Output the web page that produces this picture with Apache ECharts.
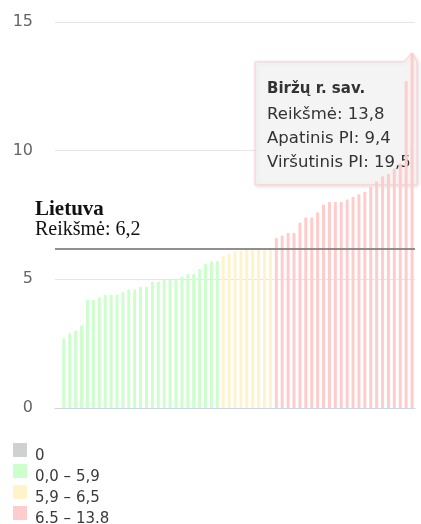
<!DOCTYPE html>
<html>
<head>
<meta charset="utf-8">
<script src="https://cdn.jsdelivr.net/npm/echarts@6/dist/echarts.min.js"></script>
<style>
  html, body { margin: 0; padding: 0; background: #fff; }
  #chart { width: 421px; height: 524px; }
</style>
</head>
<body>
<div id="chart"></div>
<script>
// Savivaldybių rodiklio reikšmės, surikiuotos didėjimo tvarka
const values = [
  2.7, 2.9, 3.0, 3.2, 4.2, 4.2, 4.3, 4.4, 4.4, 4.4,
  4.5, 4.6, 4.6, 4.7, 4.7, 4.9, 4.9, 5.0, 5.0, 5.0,
  5.1, 5.2, 5.2, 5.4, 5.6, 5.7, 5.7, 5.9, 6.0, 6.1,
  6.1, 6.2, 6.2, 6.2, 6.2, 6.2, 6.6, 6.7, 6.8, 6.8,
  7.2, 7.4, 7.4, 7.6, 7.9, 8.0, 8.0, 8.0, 8.1, 8.2,
  8.3, 8.4, 8.6, 8.8, 9.0, 9.1, 9.3, 9.5, 12.7, 13.8
];

// Intervalų ribos ir legendos užrašai
const legendNames = ['0', '0,0 – 5,9', '5,9 – 6,5', '6.5 – 13.8'];
const legendColors = ['#cfd1d1', '#ccffcc', '#fff3c9', '#ffcccc'];
const bounds = [5.9, 6.5];

// Šalies vidurkis
const countryName = 'Lietuva';
const countryValue = 6.2;

// Išskirta savivaldybė
const focusName = 'Biržų r. sav.';
const focusValue = 13.8;
const focusLower = 9.4;
const focusUpper = 19.5;

const yTicks = [0, 5, 10, 15];

const fmt = v => v.toFixed(1).replace('.', ',');

function groupOf(v) {
  if (v < bounds[0]) return 1;
  if (v <= bounds[1]) return 2;
  return 3;
}

const groups = [[], [], [], []];
values.forEach((v, i) => groups[groupOf(v)].push([i, v]));

const font = '"DejaVu Sans", Verdana, sans-serif';
const serif = '"Liberation Serif", "Times New Roman", serif';

const chart = echarts.init(document.getElementById('chart'), null, { renderer: 'canvas' });

const series = legendNames.map((name, k) => ({
  name: name,
  type: 'bar',
  barWidth: 3,
  barGap: '-100%',
  itemStyle: { color: legendColors[k] },
  data: groups[k],
  animation: false
}));

series[0].markLine = {
  silent: true,
  symbol: 'none',
  animation: false,
  label: { show: false },
  lineStyle: { color: 'rgba(125,125,125,0.85)', width: 2, type: 'solid' },
  data: [{ yAxis: countryValue }]
};

// Legendos ženklas: kvadratas viršuje, tekstas nuleistas žemiau jo
const legendIcon = 'path://M0,0H14V14H0Z M0,26L0.01,26';

chart.setOption({
  animation: false,
  grid: { left: 55, right: 6, top: 22, bottom: 116 },
  xAxis: {
    type: 'value',
    min: -1.5,
    max: values.length - 0.5,
    axisLine: { show: true, lineStyle: { color: '#ccd6eb', width: 1 } },
    axisTick: { show: false },
    axisLabel: { show: false },
    splitLine: { show: false }
  },
  yAxis: {
    type: 'value',
    min: yTicks[0],
    max: yTicks[yTicks.length - 1],
    interval: 5,
    axisLine: { show: false },
    axisTick: { show: false },
    axisLabel: { color: '#666', fontFamily: font, fontSize: 16, margin: 22 },
    splitLine: { lineStyle: { color: '#e6e6e6', width: 1 } }
  },
  legend: {
    orient: 'vertical',
    left: 13,
    top: 443,
    height: 200,
    padding: 0,
    icon: legendIcon,
    itemWidth: 14,
    itemHeight: 26,
    itemGap: -5,
    selectedMode: false,
    textStyle: { fontFamily: font, fontSize: 15, color: '#3a3a3a', padding: [0, 0, 0, 3] },
    data: legendNames
  },
  series: series
});

// Šalies vidurkio užrašas ir išskirtos savivaldybės paaiškinimas
const lineY = chart.convertToPixel({ yAxisIndex: 0 }, countryValue);
const anchor = chart.convertToPixel({ xAxisIndex: 0, yAxisIndex: 0 }, [values.length - 1, focusValue]);
const ax = anchor[0], ay = anchor[1];
const L = ax - 157, T = ay + 9, R = ax + 5, B = T + 123;

chart.setOption({
  graphic: [
    {
      type: 'text', x: 35, y: lineY - 49, silent: true,
      style: {
        text: '{b|' + countryName + '}\n{n|Reikšmė: ' + fmt(countryValue) + '}',
        rich: {
          b: { fontFamily: serif, fontWeight: 'bold', fontSize: 21, lineHeight: 20, fill: '#111' },
          n: { fontFamily: serif, fontSize: 20, lineHeight: 20, fill: '#111' }
        }
      }
    },
    {
      type: 'polygon', silent: true,
      shape: {
        points: [[L, T], [ax - 8, T], [ax, ay], [R, T], [R, B], [L, B]]
      },
      style: {
        fill: 'rgba(247,247,247,0.88)', stroke: '#ffcccc', lineWidth: 1,
        shadowBlur: 4, shadowColor: 'rgba(0,0,0,0.15)', shadowOffsetX: 1, shadowOffsetY: 1
      }
    },
    {
      type: 'text', x: L + 12, y: T + 13, silent: true,
      style: {
        text: '{t|' + focusName + '}\n{r|Reikšmė: ' + fmt(focusValue) + '}\n{r|Apatinis PI: ' + fmt(focusLower) +
              '}\n{r|Viršutinis PI: ' + fmt(focusUpper) + '}',
        rich: {
          t: { fontFamily: font, fontWeight: 'bold', fontSize: 15, lineHeight: 28, fill: '#333' },
          r: { fontFamily: font, fontSize: 16.5, lineHeight: 24, fill: '#333' }
        }
      }
    }
  ]
});
</script>
</body>
</html>
